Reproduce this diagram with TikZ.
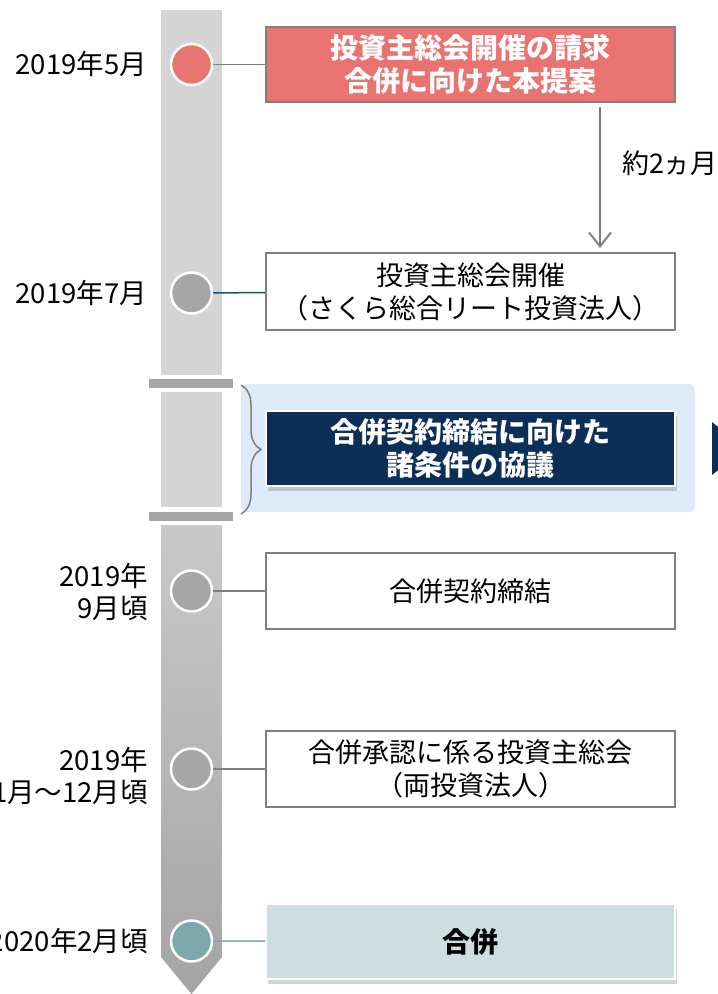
\documentclass[tikz,border=0pt]{standalone}
\usepackage{fontspec}
\setmainfont{Noto Sans CJK JP}
\usetikzlibrary{arrows.meta,shadows,decorations.pathreplacing}
\definecolor{barlight}{HTML}{D4D4D4}
\definecolor{barmid}{HTML}{C9C9C9}
\definecolor{bardark}{HTML}{A4A4A4}
\definecolor{brkgray}{HTML}{A6A6A6}
\definecolor{boxgray}{HTML}{7F7F7F}
\definecolor{redbox}{HTML}{E97371}
\definecolor{navybox}{HTML}{0B2F56}
\definecolor{navyline}{HTML}{1F4E79}
\definecolor{dotgray}{HTML}{A6A6A6}
\definecolor{dotteal}{HTML}{7FA8AC}
\definecolor{tealbox}{HTML}{CCDEE0}
\definecolor{hlblue}{HTML}{DCEAF9}
\newcommand{\evfont}{\fontsize{27}{33}\selectfont}
\newcommand{\evbold}{\fontsize{28}{33}\selectfont\bfseries}
\newcommand{\dtfont}{\fontsize{27.5}{32}\selectfont}
\tikzstyle{dot}=[circle,draw=white,line width=2.5pt,minimum size=41pt,inner sep=0pt]
\tikzstyle{evbox}=[draw=boxgray,line width=1.8pt,fill=white,minimum width=409pt,minimum height=75pt,align=center,font=\evfont]
\tikzstyle{datel}=[anchor=east,align=right,font=\dtfont,inner sep=0pt]

\begin{document}
\begin{tikzpicture}[x=1pt,y=-1pt]
    \useasboundingbox (0,0) rectangle (718,994);
    \fill[barlight] (161,10) rectangle (222,375);
    \fill[brkgray] (149,379) rectangle (233,388);
    \fill[barlight] (161,392) rectangle (222,507);
    \fill[brkgray] (149,512) rectangle (233,521);
    \shade[top color=barmid,bottom color=bardark] (161,525) -- (222,525) -- (222,957) -- (191.5,994) -- (161,957) -- cycle;
    \fill[hlblue,rounded corners=6pt] (241,384) rectangle (695,512);
    \draw[boxgray,line width=1.5pt,decorate,decoration={brace,amplitude=20pt}] (241,385) -- (241,514);
    \fill[navybox] (712,422) -- (745,448.5) -- (712,475) -- cycle;

    \node[dot,fill=redbox]  (c1) at (191.5,64.5) {};
    \node[dot,fill=dotgray] (c2) at (191.5,293) {};
    \node[dot,fill=dotgray] (c3) at (191.5,591) {};
    \node[dot,fill=dotgray] (c4) at (191.5,769) {};
    \node[dot,fill=dotteal] (c5) at (191.5,941) {};

    \node[datel] (d1) at (147,64.5) {2019年5月};
    \node[datel] (d2) at (147,293) {2019年7月};
    \node[datel] (d3) at (148,592) {2019年\\9月頃};
    \node[datel] (d4) at (148,776) {2019年\\11月～12月頃};
    \node[datel] (d5) at (148,941) {2020年2月頃};

    \node[evbox,fill=redbox,text=white,font=\evbold] (p1) at (470.5,64.5) {投資主総会開催の請求\\合併に向けた本提案};
    \node[evbox,minimum height=77pt] (p2) at (470.5,291.5) {投資主総会開催\\（さくら総合リート投資法人）};
    \node[evbox,fill=navybox,draw=white,line width=1.5pt,text=white,font=\evbold,
          drop shadow={shadow xshift=2pt,shadow yshift=-5pt,opacity=0.35}] (pm) at (470.5,448.5) {合併契約締結に向けた\\諸条件の協議};
    \node[evbox,minimum height=76pt] (p3) at (470.5,591) {合併契約締結};
    \node[evbox,minimum height=76pt] (p4) at (470.5,769) {合併承認に係る投資主総会\\（両投資法人）};
    \node[evbox,fill=tealbox,draw=white,line width=1.5pt,font=\evbold,
          drop shadow={shadow xshift=2pt,shadow yshift=-5pt,opacity=0.35}] (p5) at (470.5,941.5) {合併};

    \foreach \from/\to/\col in {c1/p1/boxgray,c2/p2/navyline,c3/p3/boxgray,c4/p4/boxgray,c5/p5/dotteal}
    \draw[\col,line width=1.5pt] (\from) -- (\to);

    \coordinate (a1) at (600,107);
    \coordinate (a2) at (600,248);
    \draw[boxgray,line width=2pt,-{Straight Barb[length=14pt,width=22pt]}] (a1) -- node[pos=0.4,right=21pt,font=\evfont,text=black,inner sep=0pt] (lbl) {約2ヵ月} (a2);
\end{tikzpicture}
\end{document}
